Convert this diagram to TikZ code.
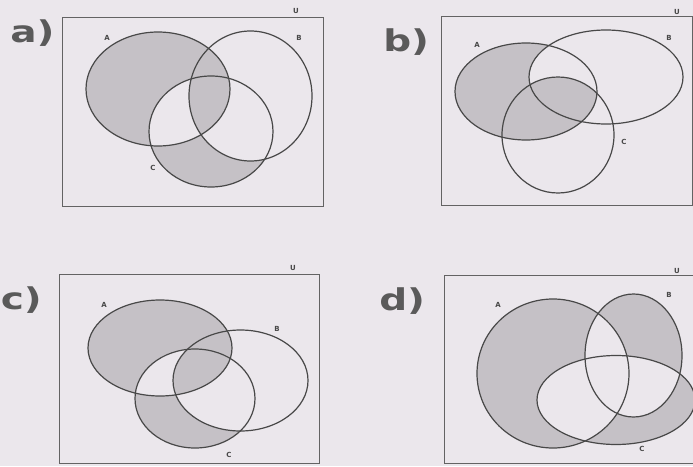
\documentclass[tikz,border=0pt]{standalone}
\usepackage{fontspec}
\setmainfont{DejaVu Sans}
\definecolor{bgc}{HTML}{EBE7EC}
\definecolor{shd}{HTML}{C5C1C6}
\definecolor{ink}{HTML}{484848}
\begin{document}
\begin{tikzpicture}[x=1pt,y=-1pt,
  setline/.style={draw=ink,line width=1.2pt},
  boxline/.style={draw=ink!85,line width=0.8pt},
  setlabel/.style={font=\fontsize{7}{7}\selectfont\bfseries,text=ink,inner sep=0pt},
  panellabel/.style={font=\fontsize{30}{30}\selectfont\bfseries,text=ink!90,inner sep=0pt,anchor=base west,xscale=1.3}]
\fill[bgc] (0,0) rectangle (693,466);
\useasboundingbox (0,0) rectangle (693,466);
% ---------- panel a ----------
\def\aA{(158,89) ellipse [x radius=72pt,y radius=57pt]}
\def\aB{(250.5,96) ellipse [x radius=61.5pt,y radius=65pt]}
\def\aC{(211,131.5) ellipse [x radius=62pt,y radius=55.5pt]}
\fill[shd] \aA; \fill[shd] \aC;
\begin{scope}\clip \aA; \fill[bgc] \aC; \end{scope}
\begin{scope}\clip \aB; \fill[bgc] \aC; \end{scope}
\begin{scope}\clip \aA; \clip \aB; \fill[shd] \aC; \end{scope}
\draw[setline] \aA; \draw[setline] \aB; \draw[setline] \aC;
\draw[boxline] (62,17) rectangle (323,206);
\node[panellabel] (pa) at (10,42) {a)};
\node[setlabel] (aU) at (296,11) {U};
\node[setlabel] (aLA) at (107,38) {A};
\node[setlabel] (aLB) at (299,38) {B};
\node[setlabel] (aLC) at (153,168) {C};
% ---------- panel b ----------
\def\bA{(526,91.5) ellipse [x radius=71pt,y radius=48.5pt]}
\def\bB{(606,77) ellipse [x radius=77pt,y radius=47pt]}
\def\bC{(558,135) ellipse [x radius=56pt,y radius=58pt]}
\fill[shd] \bA;
\begin{scope}\clip \bA; \fill[bgc] \bB; \end{scope}
\begin{scope}\clip \bA; \clip \bB; \fill[shd] \bC; \end{scope}
\draw[setline] \bA; \draw[setline] \bB; \draw[setline] \bC;
\draw[boxline] (441,16) rectangle (692,205);
\node[panellabel] (pb) at (383,51) {b)};
\node[setlabel] (bU) at (677,12) {U};
\node[setlabel] (bLA) at (477,45) {A};
\node[setlabel] (bLB) at (669,38) {B};
\node[setlabel] (bLC) at (624,142) {C};
% ---------- panel c ----------
\def\cA{(160,348) ellipse [x radius=72pt,y radius=48pt]}
\def\cB{(240.5,380.5) ellipse [x radius=67.5pt,y radius=50.5pt]}
\def\cC{(195,398.5) ellipse [x radius=60pt,y radius=49.5pt]}
\fill[shd] \cA; \fill[shd] \cC;
\begin{scope}\clip \cA; \fill[bgc] \cC; \end{scope}
\begin{scope}\clip \cB; \fill[bgc] \cC; \end{scope}
\begin{scope}\clip \cA; \clip \cB; \fill[shd] \cC; \end{scope}
\draw[setline] \cA; \draw[setline] \cB; \draw[setline] \cC;
\draw[boxline] (59,274) rectangle (319,463);
\node[panellabel] (pc) at (0.5,309) {c)};
\node[setlabel] (cU) at (293,268) {U};
\node[setlabel] (cLA) at (104,305) {A};
\node[setlabel] (cLB) at (277,329) {B};
\node[setlabel] (cLC) at (229,455) {C};
% ---------- panel d ----------
\def\dA{(553,373.5) ellipse [x radius=76pt,y radius=74.5pt]}
\def\dB{(633.5,355.5) ellipse [x radius=48.5pt,y radius=61.5pt]}
\def\dC{(616,400) ellipse [x radius=79pt,y radius=44.5pt]}
\fill[shd] \dA; \fill[shd] \dB; \fill[shd] \dC;
\begin{scope}\clip \dA; \fill[bgc] \dB; \end{scope}
\begin{scope}\clip \dA; \fill[bgc] \dC; \end{scope}
\begin{scope}\clip \dB; \fill[bgc] \dC; \end{scope}
\draw[setline] \dA; \draw[setline] \dB; \draw[setline] \dC;
\draw[boxline] (444,275) rectangle (696,463);
\node[panellabel] (pd) at (379,310) {d)};
\node[setlabel] (dU) at (677,271) {U};
\node[setlabel] (dLA) at (498,305) {A};
\node[setlabel] (dLB) at (669,295) {B};
\node[setlabel] (dLC) at (642,449) {C};
\end{tikzpicture}
\end{document}
